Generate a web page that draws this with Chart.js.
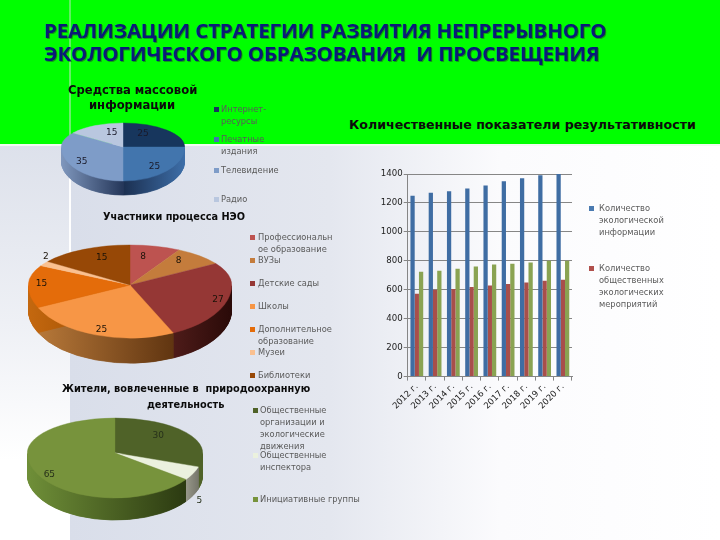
<!DOCTYPE html>
<html lang="ru">
<head>
<meta charset="utf-8">
<title>Реализации стратегии</title>
<script src="https://cdn.jsdelivr.net/npm/chart.js@4"></script>
<style>
  html, body { margin: 0; padding: 0; }
  #slide { position: relative; width: 720px; height: 540px; overflow: hidden; filter: blur(0.35px);
    background: linear-gradient(to right, #d9deea 70px, #e4e7ef 330px, #fbfbfd 500px, #ffffff 720px); }
  #leftcol { position: absolute; left: 0; top: 144px; width: 70px; height: 396px;
    background: linear-gradient(to bottom, #dde1eb, #eef0f5 45%, #ffffff 80%); }
  #green { position: absolute; left: 0; top: 0; width: 720px; height: 144px; background: #00ff00; }
  #hline { position: absolute; left: 0; top: 144px; width: 720px; height: 2px; background: #f2fbf0; }
  #vline { position: absolute; left: 69px; top: 0; width: 2px; height: 255px;
    background: linear-gradient(to bottom, #5cf25c, #70ee70 143px, #ffffff 146px, #ffffff); }
  canvas { position: absolute; }
  .t { position: absolute; white-space: pre; transform: translateY(-50%); z-index: 3; }
  .title { font: bold 20.4px "Open Sans", sans-serif; color: #0a1a78; text-shadow: 1px 1px 0 rgba(30, 80, 40, 0.55); letter-spacing: -0.1px; }
  .head { font: bold 11.6px "DejaVu Sans", sans-serif; color: #0b0b0b; }
  .head.small { font-size: 9.75px; }
  .head.wide { font-size: 12.6px; }
  .leg { font: 8.3px "DejaVu Sans", sans-serif; color: #5a5a5a; }
  .sw { position: absolute; width: 5px; height: 5px; z-index: 3; }
</style>
</head>
<body>
<div id="slide">
  <div id="green"></div>
  <div id="leftcol"></div>
  <div id="hline"></div>
  <div id="vline"></div>
  <canvas id="mediaPie" width="124" height="124" style="left:61px;top:85px;z-index:1"></canvas>
  <canvas id="peoplePie" width="204" height="204" style="left:28px;top:183px;z-index:1"></canvas>
  <canvas id="residentsPie" width="176" height="176" style="left:27px;top:365px;z-index:1"></canvas>
  <canvas id="barChart" width="220" height="255" style="left:370px;top:165px;z-index:1"></canvas>
</div>
<script>
// bar chart data
const years = ['2012 г.', '2013 г.', '2014 г.', '2015 г.', '2016 г.', '2017 г.', '2018 г.', '2019 г.', '2020 г.'];
const infoValues = [1250, 1270, 1280, 1300, 1320, 1350, 1370, 1392, 1400];
const eventValues = [572, 600, 605, 620, 630, 640, 650, 662, 670];
const greenValues = [725, 732, 745, 760, 775, 780, 788, 800, 800];

// pie data
const mediaLabels = ['Интернет-ресурсы', 'Печатные издания', 'Телевидение', 'Радио'];
const mediaValues = [25, 25, 35, 15];
const peopleLabels = ['Профессиональное образование', 'ВУЗы', 'Детские сады', 'Школы', 'Дополнительное образование', 'Музеи', 'Библиотеки'];
const peopleValues = [8, 8, 27, 25, 15, 2, 15];
const residentLabels = ['Общественные организации и экологические движения', 'Общественные инспектора', 'Инициативные группы'];
const residentValues = [30, 5, 65];

const mediaColors = ['#17365d', '#4275ad', '#7e9cc8', '#b9c7df'];
const peopleColors = ['#bd5350', '#c47c3c', '#953735', '#f79646', '#e46c0a', '#fac090', '#974806'];
const residentColors = ['#4f6228', '#ebf1de', '#77933c'];

const text = (cls, s, x, y) => {
  const el = document.createElement('div');
  el.className = 't ' + cls;
  el.textContent = s;
  el.style.left = x + 'px';
  el.style.top = y + 'px';
  document.getElementById('slide').appendChild(el);
  return el;
};
const swatch = (color, x, y) => {
  const el = document.createElement('div');
  el.className = 'sw';
  el.style.cssText = `left:${x}px;top:${y - 2.5}px;background:${color}`;
  document.getElementById('slide').appendChild(el);
};
// one legend entry: swatch on the first line, then the wrapped lines
const legend = (color, lines, x, tx, ys) => {
  swatch(color, x, ys[0]);
  lines.forEach((l, i) => text('leg', l, tx, ys[i]));
};

text('title', 'РЕАЛИЗАЦИИ СТРАТЕГИИ РАЗВИТИЯ НЕПРЕРЫВНОГО', 44, 30);
text('title', 'ЭКОЛОГИЧЕСКОГО ОБРАЗОВАНИЯ  И ПРОСВЕЩЕНИЯ', 44, 53);
text('head', 'Средства массовой', 68, 90);
text('head', 'информации', 89, 105);
text('head wide', 'Количественные показатели результативности', 349, 124);
text('head small', 'Участники процесса НЭО', 103, 216);
text('head small', 'Жители, вовлеченные в  природоохранную', 62, 388);
text('head small', 'деятельность', 147, 404);

legend(mediaColors[0], ['Интернет-', 'ресурсы'], 214, 221, [109, 121]);
legend(mediaColors[1], ['Печатные', 'издания'], 214, 221, [139, 151]);
legend(mediaColors[2], ['Телевидение'], 214, 221, [170]);
legend(mediaColors[3], ['Радио'], 214, 221, [199]);

legend(peopleColors[0], ['Профессиональн', 'ое образование'], 250, 258, [237, 249]);
legend(peopleColors[1], ['ВУЗы'], 250, 258, [260]);
legend(peopleColors[2], ['Детские сады'], 250, 258, [283]);
legend(peopleColors[3], ['Школы'], 250, 258, [306]);
legend(peopleColors[4], ['Дополнительное', 'образование'], 250, 258, [329, 341]);
legend(peopleColors[5], ['Музеи'], 250, 258, [352]);
legend(peopleColors[6], ['Библиотеки'], 250, 258, [375]);

legend(residentColors[0], ['Общественные', 'организации и', 'экологические', 'движения'], 253, 260, [410, 422, 434, 446]);
legend(residentColors[1], ['Общественные', 'инспектора'], 253, 260, [455, 467]);
legend(residentColors[2], ['Инициативные группы'], 253, 260, [499]);

legend('#4a7ab0', ['Количество', 'экологической', 'информации'], 589, 599, [208, 220, 232]);
legend('#b0504c', ['Количество', 'общественных', 'экологических', 'мероприятий'], 589, 599, [268, 280, 292, 304]);

// squashed pie with a side wall: the part above the centre and the part below
// get their own vertical scale, as the tilted pies in the slide do
const tiltedPie = {
  id: 'tiltedPie',
  beforeDatasetsDraw(chart, args, o) {
    const ctx = chart.ctx;
    const arcs = chart.getDatasetMeta(0).data;
    const cx = arcs[0].x, cy = arcs[0].y, r = arcs[0].outerRadius;
    const sTop = o.ryTop / r, sBot = o.ryBot / r;
    const half = (arc, opts, top, dy) => {
      const saved = arc.options;
      ctx.save();
      ctx.beginPath();
      if (top) ctx.rect(0, 0, chart.width, cy + 0.5);
      else ctx.rect(0, cy + dy, chart.width, chart.height);
      ctx.clip();
      ctx.translate(cx, cy + dy);
      ctx.scale(1, top ? sTop : sBot);
      ctx.translate(-cx, -cy);
      arc.options = opts;
      arc.draw(ctx);
      arc.options = saved;
      ctx.restore();
    };
    // side wall
    arcs.forEach((arc, i) => {
      const g = ctx.createLinearGradient(cx + o.side[i][2] * r, 0, cx + o.side[i][3] * r, 0);
      g.addColorStop(0, o.side[i][0]);
      g.addColorStop(1, o.side[i][1]);
      const opts = { ...arc.options, backgroundColor: g, borderColor: g, borderWidth: 1 };
      for (let dy = o.depth; dy >= 1; dy -= 0.5) half(arc, opts, false, dy);
    });
    // top face
    arcs.forEach((arc) => {
      half(arc, arc.options, true, 0);
      half(arc, arc.options, false, 0);
    });
    // value labels
    ctx.font = '9px "DejaVu Sans", sans-serif';
    ctx.textAlign = 'center';
    ctx.textBaseline = 'middle';
    arcs.forEach((arc, i) => {
      const mid = (arc.startAngle + arc.endAngle) / 2;
      const dx = Math.cos(mid) * o.labelX[i] * r;
      const dy = Math.sin(mid) * o.labelY[i] * r;
      ctx.fillStyle = o.labelColor;
      ctx.fillText(chart.data.datasets[0].data[i], cx + dx, cy + dy * (dy < 0 ? sTop : sBot));
    });
    return false;
  }
};

function pie(id, labels, values, colors, tilt) {
  new Chart(document.getElementById(id), {
    type: 'pie',
    data: { labels, datasets: [{ data: values, backgroundColor: colors, borderColor: colors, borderWidth: 0.6 }] },
    options: {
      responsive: false,
      animation: false,
      plugins: { legend: { display: false }, tooltip: { enabled: false }, tiltedPie: tilt }
    },
    plugins: [tiltedPie]
  });
}

pie('mediaPie', mediaLabels, mediaValues, mediaColors, {
  ryTop: 24, ryBot: 34, depth: 14, labelColor: '#1a1a2a',
  labelX: [0.46, 0.72, 0.75, 0.4], labelY: [0.77, 0.83, 0.97, 0.65],
  side: [['#17365d', '#17365d', 0, 1], ['#1b2f50', '#3d6ea8', 0, 1], ['#7f97bd', '#25375a', -1, 0], ['#b9c7df', '#b9c7df', -1, 0]]
});
pie('peoplePie', peopleLabels, peopleValues, peopleColors, {
  ryTop: 40, ryBot: 53, depth: 25, labelColor: '#1a1208',
  labelX: [0.52, 0.7, 0.9, 0.83, 0.87, 0.98, 0.61], labelY: [0.72, 0.82, 1, 0.89, 1, 1.3, 0.76],
  side: [['#8a3a38', '#8a3a38', 0, 1], ['#8a5520', '#8a5520', 0, 1], ['#4f1c1a', '#2a0a08', 0.4, 1], ['#bd7d3c', '#5f3410', -1, 0.45], ['#c4680f', '#b05a08', -1, -0.6], ['#fac090', '#fac090', -1, 0], ['#974806', '#974806', -1, 0]]
});
pie('residentsPie', residentLabels, residentValues, residentColors, {
  ryTop: 35, ryBot: 45, depth: 22, labelColor: '#26301a',
  labelX: [0.61, 1.08, 0.84], labelY: [0.83, 2.35, 1.08],
  side: [['#4f6228', '#4f6228', 0, 1], ['#9a9a8c', '#6a6a60', 0.8, 1], ['#6f8f38', '#2a3810', -1, 0.85]]
});

new Chart(document.getElementById('barChart'), {
  type: 'bar',
  data: {
    labels: years,
    datasets: [
      { label: 'Количество экологической информации', data: infoValues, backgroundColor: '#3f6da3' },
      { label: 'Количество общественных экологических мероприятий', data: eventValues, backgroundColor: '#a84f4b' },
      { label: 'Ряд 3', data: greenValues, backgroundColor: '#8aa352' }
    ]
  },
  options: {
    responsive: false,
    animation: false,
    layout: { padding: { top: 9, right: 18 } },
    datasets: { bar: { categoryPercentage: 0.7, barPercentage: 1 } },
    plugins: { legend: { display: false }, tooltip: { enabled: false } },
    scales: {
      x: {
        grid: { drawOnChartArea: false, color: '#868686', tickLength: 4 },
        border: { color: '#868686' },
        ticks: { font: { size: 8.6, family: '"DejaVu Sans", sans-serif' }, color: '#222', maxRotation: 45, minRotation: 45, padding: 1, autoSkip: false },
        afterFit(scale) { scale.height = 43.4; }
      },
      y: {
        min: 0, max: 1400,
        grid: { color: '#868686', tickLength: 4 },
        border: { color: '#868686' },
        ticks: { stepSize: 200, font: { size: 8.6, family: '"DejaVu Sans", sans-serif' }, color: '#222', padding: 1, callback: (v) => String(v) },
        afterFit(scale) { scale.width = 37.7; }
      }
    }
  }
});
</script>
</body>
</html>
